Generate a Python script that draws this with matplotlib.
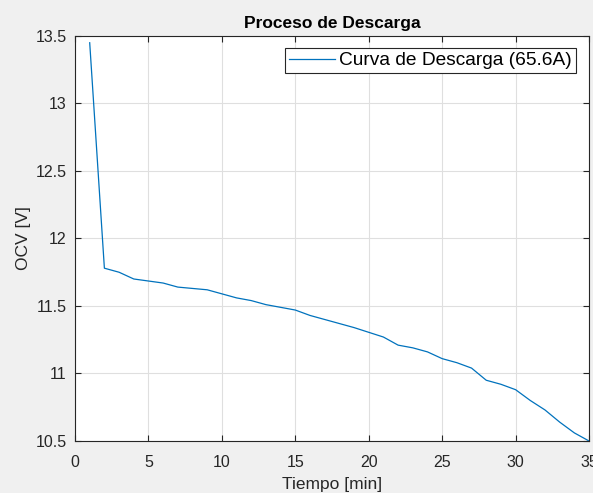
import matplotlib
matplotlib.use("Agg")
import matplotlib.pyplot as plt

# discharge test, one sample per minute
tiempo_min = list(range(1, 36))
ocv_v = [13.45, 11.78, 11.75, 11.70, 11.685, 11.67, 11.64, 11.63, 11.62, 11.59,
         11.56, 11.54, 11.51, 11.49, 11.47, 11.43, 11.40, 11.37, 11.34, 11.305,
         11.27, 11.21, 11.19, 11.16, 11.11, 11.08, 11.04, 10.95, 10.92, 10.88,
         10.80, 10.73, 10.64, 10.56, 10.50]

x_ticks = [0, 5, 10, 15, 20, 25, 30, 35]
y_ticks = [10.5, 11, 11.5, 12, 12.5, 13, 13.5]

plt.rcParams["font.family"] = ["Liberation Sans", "DejaVu Sans"]

fig = plt.figure(figsize=(5.93, 4.93), dpi=100, facecolor="#f0f0f0")
ax = fig.add_axes([0.1265, 0.1055, 0.8668, 0.8215])

ax.plot(tiempo_min, ocv_v, color="#0072BD", lw=0.9,
        label="Curva de Descarga (65.6A)")

ax.set_xlim(0, 35)
ax.set_ylim(10.5, 13.5)
ax.set_xticks(x_ticks)
ax.set_yticks(y_ticks)
ax.set_xticklabels([str(v) for v in x_ticks])
ax.set_yticklabels(["10.5", "11", "11.5", "12", "12.5", "13", "13.5"])

ax.grid(True, color="#dfdfdf", lw=0.8)
ax.set_axisbelow(True)
for s in ax.spines.values():
    s.set_color("#262626")
    s.set_linewidth(0.8)
ax.tick_params(direction="in", top=True, right=True, length=4,
               labelsize=11.5, colors="#262626")
ax.tick_params(axis="x", pad=10)
ax.tick_params(axis="y", pad=6)

ax.set_title("Proceso de Descarga", fontsize=12.5, fontweight="bold", pad=6)
ax.set_xlabel("Tiempo [min]", fontsize=12.5, color="#262626", labelpad=5)
ax.set_ylabel("OCV [V]", fontsize=12.5, color="#262626", labelpad=3)

leg = ax.legend(loc="upper right", fontsize=13.8, fancybox=False,
                framealpha=1, edgecolor="#262626", borderpad=0.2,
                borderaxespad=0, handlelength=2.4, handletextpad=0.25,
                bbox_to_anchor=(0.9747, 0.9704))
leg.get_frame().set_linewidth(0.8)

fig.savefig("out.png", dpi=100, facecolor=fig.get_facecolor())
